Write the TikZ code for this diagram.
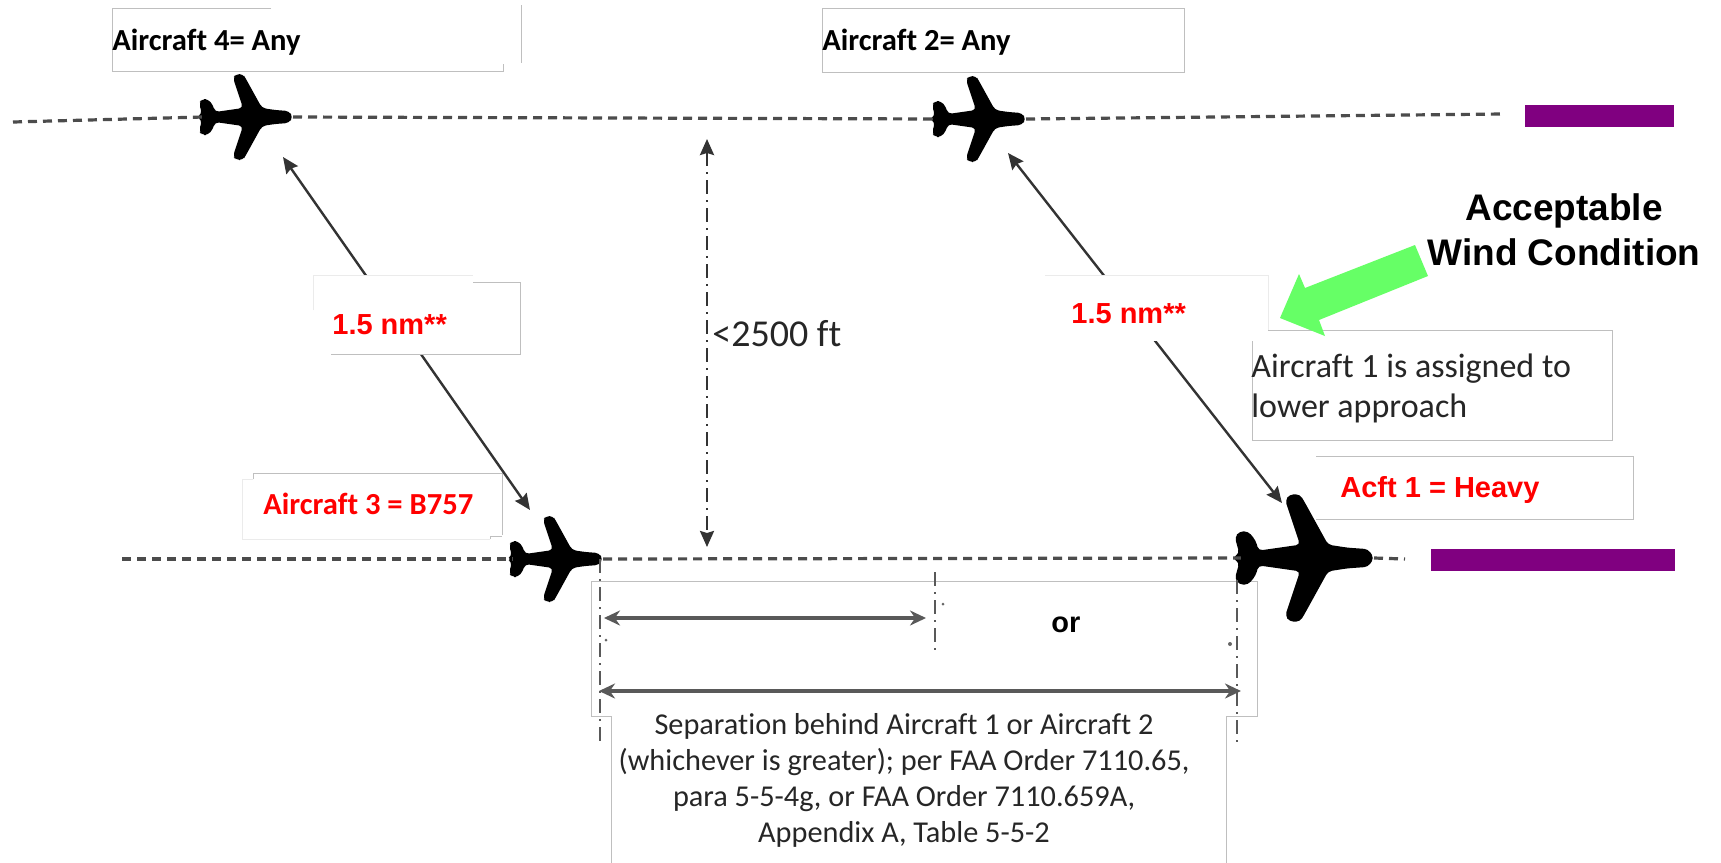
\documentclass[tikz,border=0pt]{standalone}
\usepackage{fontspec}
\setmainfont{Carlito}[Ligatures=NoCommon]
\newfontfamily\arialfont{Liberation Sans}
\usetikzlibrary{arrows.meta}
\definecolor{rwypurple}{HTML}{800080}
\definecolor{windgreen}{HTML}{66FF66}

\tikzset{
    aircraft/.pic={
        \fill[black, rounded corners=2pt] (0,0) -- (-4,-6) -- (-18,-7) -- (-31,-9) -- (-47,-38) -- (-50,-43) -- (-57,-43)
            -- (-60,-39) -- (-50,-9) -- (-78,-5) -- (-80,-12) -- (-85,-18) -- (-91,-18) -- (-94,-14) -- (-91,-3)
            -- (-96,0)
            -- (-91,3) -- (-94,14) -- (-91,18) -- (-85,18) -- (-80,12) -- (-78,5) -- (-50,9) -- (-60,39)
            -- (-57,43) -- (-50,43) -- (-47,38) -- (-31,9) -- (-18,7) -- (-4,6) -- cycle;
        \coordinate (-nose) at (0,0);
        \coordinate (-tail) at (-90,0);
    }
}

\begin{document}
\begin{tikzpicture}[
        x=0.5pt, y=-0.5pt,
        boxedge/.style={draw=black!25, line width=0.5pt},
        fadedge/.style={draw=black!8, line width=0.5pt},
        course/.style={draw=black!70, line width=1.6pt, dash pattern=on 4.5pt off 3pt},
        runway/.style={fill=rwypurple},
        sepmark/.style={draw=black!65, line width=1.1pt, dash pattern=on 7pt off 3pt on 1pt off 3pt},
        speck/.style={fill=black!60},
        distarrow/.style={black!80, line width=1.2pt, {Stealth[length=8pt,width=7pt,inset=1pt]}-{Stealth[length=8pt,width=7pt,inset=1pt]}},
        seprange/.style={black!65, line width=1.6pt, {Stealth[length=8pt,width=7.5pt]}-{Stealth[length=8pt,width=7.5pt]}},
        plaintxt/.style={anchor=base west, inner sep=0pt, text=black!85, font=\fontsize{17}{20}\selectfont},
        calbold/.style={anchor=base west, inner sep=0pt, font=\fontsize{15.3}{18}\selectfont\bfseries},
        redbold/.style={anchor=base west, inner sep=0pt, text=red, font=\arialfont\fontsize{14.5}{17}\selectfont\bfseries}
    ]
    \useasboundingbox[fill=white] (0,0) rectangle (1721,863);

    % label boxes
    \draw[boxedge] (271,8) -- (112,8) -- (112,71) -- (503,71) -- (503,64);
    \draw[boxedge] (521,5) -- (521,63);
    \draw[boxedge] (822,8) rectangle (1184,72);
    \draw[boxedge] (1268,330) -- (1612,330) -- (1612,440) -- (1252,440) -- (1252,340);
    \draw[boxedge] (1316,456) -- (1633,456) -- (1633,519) -- (1316,519);
    \draw[boxedge] (253,479) -- (253,473) -- (502,473) -- (502,535);
    \draw[fadedge] (253,479) -- (242,479) -- (242,539) -- (490,539);
    \draw[boxedge] (490,539) -- (490,536) -- (502,536);
    \draw[boxedge] (611,863) -- (611,716) -- (591,716) -- (591,581) -- (1257,581) -- (1257,716) -- (1226,716) -- (1226,863);

    % runways
    \fill[runway] (1525,105) rectangle (1674,127);
    \fill[runway] (1431,549) rectangle (1675,571);

    % approach courses
    \coordinate (upLeft) at (13,122);
    \coordinate (upRight) at (1503,114);
    \coordinate (lowLeft) at (122,559);
    \coordinate (lowRight) at (1405,559);
    \pic (acft4) at (293,117) {aircraft};
    \pic (acft2) at (1026,119) {aircraft};
    \pic (acft3) at (603,559) {aircraft};
    \pic[scale=1.48] (acft1) at (1374,558) {aircraft};
    \draw[course] (upLeft) -- (acft4-tail);
    \draw[course] (acft4-nose) -- (acft2-tail);
    \draw[course] (acft2-nose) -- (upRight);
    \draw[course] (lowLeft) -- (acft3-tail);
    \draw[course] (acft3-nose) -- (acft1-tail);
    \draw[course] (acft1-nose) -- (lowRight);

    % diagonal distances
    \coordinate (diagA) at (283,157);
    \coordinate (diagB) at (530,510);
    \coordinate (diagC) at (1008,153);
    \coordinate (diagD) at (1282,503);
    \draw[distarrow] (diagA) -- (diagB);
    \draw[distarrow] (diagC) -- (diagD);
    \fill[white] (313,275) -- (473,275) -- (473,282) -- (520,282) -- (520,354) -- (331,354) -- (331,310) -- (313,310) -- cycle;
    \fill[white] (1045,275) rectangle (1268,341);
    \draw[boxedge] (473,282) -- (520,282) -- (520,354) -- (331,354);
    \draw[fadedge] (313,310) -- (313,275) -- (473,275);
    \draw[fadedge] (1045,275) -- (1268,275) -- (1268,330);

    % vertical spacing
    \coordinate (gapTop) at (707,139);
    \coordinate (gapLow) at (707,547);
    \draw[distarrow, dash pattern=on 7pt off 3pt on 1pt off 3pt] (gapTop) -- (gapLow);

    % separation
    \coordinate (tickA) at (600,559);
    \coordinate (tickAend) at (600,742);
    \coordinate (tickB) at (935,572);
    \coordinate (tickBend) at (935,654);
    \coordinate (tickC) at (1237,580);
    \coordinate (tickCend) at (1237,743);
    \draw[sepmark] (tickA) -- (tickAend);
    \draw[sepmark] (tickB) -- (tickBend);
    \draw[sepmark] (tickC) -- (tickCend);
    \fill[speck] (606,640) circle (1.5);
    \fill[speck] (943,604) circle (1.5);
    \fill[speck] (1230,644) circle (2);
    \coordinate (sepA) at (604,618);
    \coordinate (sepB) at (926,618);
    \coordinate (sepC) at (599,691);
    \coordinate (sepD) at (1241,691);
    \draw[seprange] (sepA) -- (sepB);
    \draw[seprange] (sepC) -- (sepD);

    % wind arrow
    \fill[windgreen] (1280,318) -- (1299,274) -- (1305,288) -- (1415,245) -- (1428,276) -- (1319,320) -- (1325,336) -- cycle;

    % texts
    \node[calbold] (lblAcft4) at (112,50) {Aircraft 4= Any};
    \node[calbold] (lblAcft2) at (822,50) {Aircraft 2= Any};
    \node[calbold, text=red] (lblAcft3) at (263,514) {Aircraft 3 = B757};
    \node[redbold] (lblAcft1) at (1340,497) {Acft 1 = Heavy};
    \node[redbold] (lblDistL) at (332,334) {1.5 nm**};
    \node[redbold] (lblDistR) at (1071,323) {1.5 nm**};
    \node[plaintxt, font=\fontsize{19}{22}\selectfont] (lblGap) at (712,346) {<2500 ft};
    \node[plaintxt] (lblLower1) at (1251,377) {Aircraft 1 is assigned to};
    \node[plaintxt] (lblLower2) at (1251,417) {lower approach};
    \node[redbold, text=black] (lblOr) at (1051,632) {or};
    \node[plaintxt, anchor=center, align=center, font=\fontsize{15.15}{18}\selectfont] (lblSep) at (904,780)
        {Separation behind Aircraft 1 or Aircraft 2\\(whichever is greater); per FAA Order 7110.65,\\para 5-5-4g, or FAA Order 7110.659A,\\Appendix A, Table 5-5-2};
    \node[anchor=center, align=center, font=\arialfont\fontsize{18.5}{22.5}\selectfont\bfseries] (lblWind) at (1564,230)
        {Acceptable\\Wind Condition};
\end{tikzpicture}
\end{document}
